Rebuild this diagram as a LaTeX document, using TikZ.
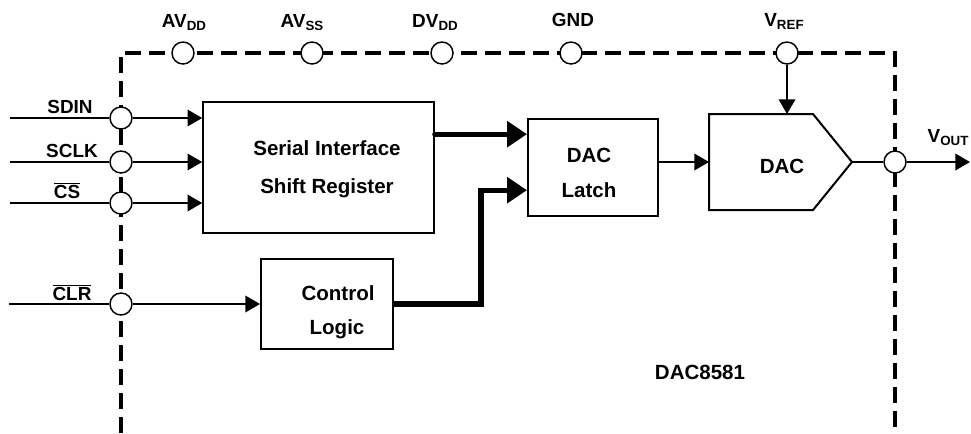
\documentclass[tikz,border=0pt]{standalone}
\usepackage{fontspec}
\setmainfont{Liberation Sans}
\usetikzlibrary{arrows.meta}
\newcommand\pinsub[1]{\raisebox{-0.35ex}{\fontsize{10}{10}\selectfont #1}}
\newcommand\negpin[1]{$\overline{\mbox{#1}}$}

\begin{document}
\begin{tikzpicture}[x=0.75pt,y=-0.75pt,
  fence/.style={line width=2.8pt, dash pattern=on 12pt off 6pt},
  pad/.style={draw, circle, fill=white, line width=1.1pt, minimum size=16.5pt, inner sep=0pt},
  block/.style={draw, line width=1.5pt},
  wire/.style={line width=1pt},
  feed/.style={wire, -{Triangle[length=11pt,width=12.5pt]}},
  bus/.style={line width=4pt, -{Triangle[length=15pt,width=19pt]}},
  pinname/.style={font=\fontsize{14.2}{16}\selectfont\bfseries, anchor=base, inner sep=0pt},
  blockname/.style={font=\fontsize{15.4}{18}\selectfont\bfseries, anchor=base, inner sep=0pt}]
\useasboundingbox (0,0) rectangle (971,433);

\draw[fence] (121,433) -- (121,53) -- (895,53) -- (895,433);

\node[pad] (avdd) at (183,53) {};
\node[pad] (avss) at (312,53) {};
\node[pad] (dvdd) at (442,53) {};
\node[pad] (gnd) at (571,53) {};
\node[pad] (vref) at (787,53) {};
\node[pad] (sdin) at (121,118) {};
\node[pad] (sclk) at (121,162) {};
\node[pad] (cs) at (121,203) {};
\node[pad] (clr) at (121,304) {};
\node[pad] (vout) at (895,162) {};

\node[pinname] (avddname) at (184,27) {AV\pinsub{DD}};
\node[pinname] (avssname) at (302,27) {AV\pinsub{SS}};
\node[pinname] (dvddname) at (435,27) {DV\pinsub{DD}};
\node[pinname] (gndname) at (573,26) {GND};
\node[pinname] (vrefname) at (784,26) {V\pinsub{REF}};
\node[pinname] (voutname) at (948,142) {V\pinsub{OUT}};
\node[pinname] (sdinname) at (70,113) {SDIN};
\node[pinname] (sclkname) at (72,157) {SCLK};
\node[pinname] (csname) at (67,198) {\negpin{CS}};
\node[pinname] (clrname) at (72,300) {\negpin{CLR}};

\node[block, minimum width=173pt, minimum height=98pt] (serial) at (318.5,167.5) {};
\node[block, minimum width=97.5pt, minimum height=72.75pt] (latch) at (593,167.5) {};
\node[block, minimum width=99pt, minimum height=67.5pt] (ctrl) at (327,304) {};
\draw[block] (709,114) -- (813,114) -- (852,162) -- (813,210) -- (709,210) -- cycle;
\coordinate (dacin) at (709,162);
\coordinate (dactop) at (787,114);
\coordinate (dacout) at (852,162);

\node[blockname] (serialtop) at (327,155) {Serial Interface};
\node[blockname] (serialbot) at (327,193) {Shift Register};
\node[blockname] (latchtop) at (589,162) {DAC};
\node[blockname] (latchbot) at (589,197) {Latch};
\node[blockname] (ctrltop) at (338,300) {Control};
\node[blockname] (ctrlbot) at (337,334) {Logic};
\node[blockname] (dacname) at (782,173) {DAC};
\node[blockname] (partname) at (700,379) {DAC8581};

\coordinate (sdinin) at (10,118);
\coordinate (sclkin) at (10,162);
\coordinate (csin) at (10,203);
\coordinate (clrin) at (9,304);
\coordinate (voutend) at (970,162);
\path[draw,wire] (sdinin) -- (sdin);
\path[draw,wire] (sclkin) -- (sclk);
\path[draw,wire] (csin) -- (cs);
\path[draw,wire] (clrin) -- (clr);

\path[draw,feed] (sdin) -- (sdin -| serial.west);
\path[draw,feed] (sclk) -- (sclk -| serial.west);
\path[draw,feed] (cs) -- (cs -| serial.west);
\path[draw,feed] (clr) -- (clr -| ctrl.west);
\path[draw,feed] (vref) -- (dactop);
\path[draw,feed] (dacin -| latch.east) -- (dacin);
\path[draw,wire] (dacout) -- (vout);
\path[draw,feed] (vout) -- (voutend);

\path[draw,bus,line cap=round] ([yshift=25pt]serial.east) -- ([yshift=25pt]latch.west);
\path[draw,bus] (ctrl.east) -- ++(87,0) |- ([yshift=-17pt]latch.west);
\end{tikzpicture}
\end{document}
